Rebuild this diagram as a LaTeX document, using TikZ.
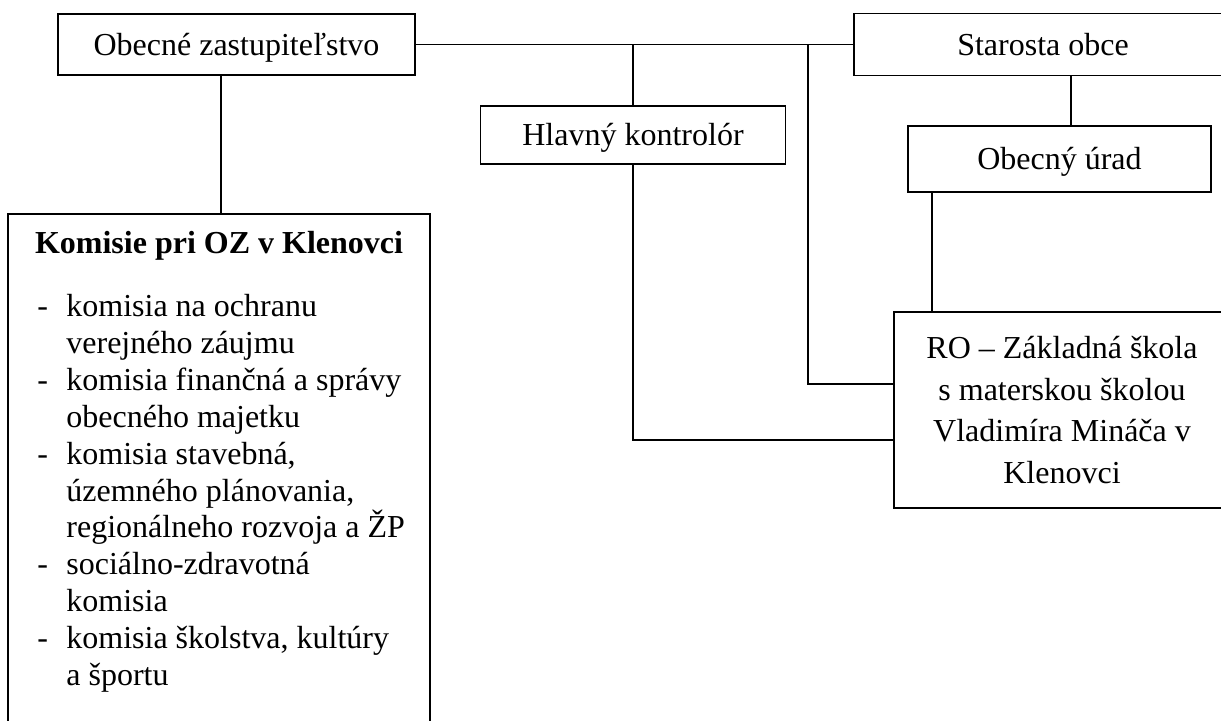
\documentclass[tikz,border=0pt]{standalone}
\usepackage{fontspec}
\setmainfont{Liberation Serif}
\begin{document}
\begin{tikzpicture}[x=0.5pt,y=-0.5pt,
  every node/.style={font=\fontsize{16}{18.4}\selectfont},
  box/.style={draw,line width=0.9pt,inner sep=0pt,text height=10.6pt,text depth=0pt},
  conn/.style={line width=0.9pt},
  item/.style={anchor=base west,inner sep=0pt}]
\useasboundingbox (0,0) rectangle (1221,720);
\clip (0,0) rectangle (1221,720);
% boxes
\node[box,minimum width=178.5pt,minimum height=30.5pt] (oz) at (236.5,44.5) {Obecné zastupiteľstvo};
\node[box,minimum width=189pt,minimum height=31pt] (st) at (1043,44.5) {Starosta obce};
\node[box,minimum width=152.5pt,minimum height=29pt] (hk) at (633,135) {Hlavný kontrolór};
\node[box,minimum width=151.5pt,minimum height=33pt] (ou) at (1059.5,159) {Obecný úrad};
\node[draw,line width=0.9pt,inner sep=0pt,minimum width=211pt,minimum height=273pt] (kom) at (219,487) {};
\node[draw,line width=0.9pt,inner sep=0pt,minimum width=168pt,minimum height=98pt,align=center,
      font=\fontsize{16}{20.85}\selectfont] (ro) at (1062,410)
  {RO -- Základná škola\\s materskou školou\\Vladimíra Mináča v\\Klenovci};
% komisie text
\node[anchor=base,inner sep=0pt,font=\fontsize{16}{18.4}\selectfont\bfseries] (komt) at (219,253) {Komisie pri OZ v Klenovci};
\node[item] (d1) at (37,316.5) {-};
\node[item] (i1) at (66,316.5) {komisia na ochranu};
\node[item] (i1b) at (66,353.4) {verejného záujmu};
\node[item] (d2) at (37,390.3) {-};
\node[item] (i2) at (66,390.3) {komisia finančná a správy};
\node[item] (i2b) at (66,427.2) {obecného majetku};
\node[item] (d3) at (37,464.1) {-};
\node[item] (i3) at (66,464.1) {komisia stavebná,};
\node[item] (i3b) at (66,501.0) {územného plánovania,};
\node[item] (i3c) at (66,537.9) {regionálneho rozvoja a ŽP};
\node[item] (d4) at (37,574.8) {-};
\node[item] (i4) at (66,574.8) {sociálno-zdravotná};
\node[item] (i4b) at (66,611.7) {komisia};
\node[item] (d5) at (37,648.6) {-};
\node[item] (i5) at (66,648.6) {komisia školstva, kultúry};
\node[item] (i5b) at (66,685.5) {a športu};
% helper coordinates for connector columns
\coordinate (c1) at (808,0);
\coordinate (c2) at (1071,0);
\coordinate (c3) at (932,0);
\coordinate (c4) at (221,0);
\coordinate (r1) at (0,384);
\coordinate (r2) at (0,440);
% connectors
\draw[conn] (oz.east) -- (st.west);
\draw[conn] (hk.north) -- (hk.north |- oz.east);
\draw[conn] (c1 |- oz.east) |- (ro.west |- r1);
\draw[conn] (hk.south) |- (ro.west |- r2);
\draw[conn] (st.south -| c2) -- (ou.north -| c2);
\draw[conn] (ou.south -| c3) -- (ro.north -| c3);
\draw[conn] (oz.south -| c4) -- (kom.north -| c4);
\end{tikzpicture}
\end{document}
